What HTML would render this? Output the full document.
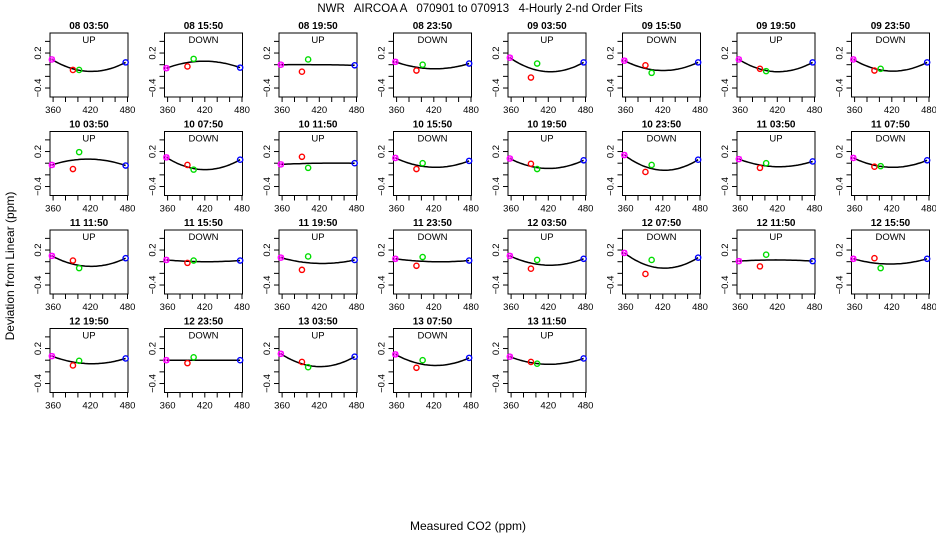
<!DOCTYPE html>
<html><head><meta charset="utf-8"><style>
body{margin:0;background:#fff}
svg{display:block;font-family:"Liberation Sans",sans-serif}
</style></head><body>
<svg id="c" width="936" height="540" viewBox="0 0 936 540">
<text x="480" y="12" text-anchor="middle" font-size="11.5" style="white-space:pre">NWR   AIRCOA A   070901 to 070913   4-Hourly 2-nd Order Fits</text>
<text x="468" y="530" text-anchor="middle" font-size="12">Measured CO2 (ppm)</text>
<text transform="translate(14,266) rotate(-90)" text-anchor="middle" font-size="12">Deviation from Linear (ppm)</text>
</svg>
<script>
const titles=["08 03:50","08 15:50","08 19:50","08 23:50","09 03:50","09 15:50","09 19:50","09 23:50",
"10 03:50","10 07:50","10 11:50","10 15:50","10 19:50","10 23:50","11 03:50","11 07:50",
"11 11:50","11 15:50","11 19:50","11 23:50","12 03:50","12 07:50","12 11:50","12 15:50",
"12 19:50","12 23:50","13 03:50","13 07:50","13 11:50"];
const directions=["UP","DOWN","UP","DOWN","UP","DOWN","UP","DOWN","UP","DOWN","UP","DOWN","UP","DOWN","UP","DOWN",
"UP","DOWN","UP","DOWN","UP","DOWN","UP","DOWN","UP","DOWN","UP","DOWN","UP"];
const pointX=[358,392,402,477];
const magentaVals=[0.09,-0.06,0,0.05,0.12,0.07,0.09,0.09, -0.03,0.10,-0.02,0.09,0.08,0.14,0.07,0.09, 0.10,0.03,0.07,0.05,0.10,0.15,0.01,0.05, 0.07,0,0.11,0.10,0.06];
const redVals=[-0.09,-0.03,-0.12,-0.10,-0.22,-0.01,-0.07,-0.10, -0.10,-0.03,0.11,-0.10,-0.01,-0.15,-0.08,-0.06, 0.02,-0.02,-0.14,-0.07,-0.12,-0.21,-0.08,0.06, -0.09,-0.05,-0.03,-0.13,-0.03];
const greenVals=[-0.09,0.10,0.09,0,0.02,-0.14,-0.11,-0.07, 0.19,-0.11,-0.08,0,-0.10,-0.03,0,-0.05, -0.11,0.02,0.09,0.08,0.03,0.03,0.12,-0.11, -0.01,0.05,-0.12,0,-0.06];
const blueVals=[0.04,-0.05,-0.01,0.02,0.04,0.04,0.04,0.04, -0.04,0.06,0,0.04,0.05,0.06,0.03,0.05, 0.06,0.02,0.03,0.02,0.05,0.07,0.01,0.05, 0.03,0,0.06,0.04,0.03];
const curveMidVals=[-0.115,0.06,0,-0.07,-0.12,-0.10,-0.12,-0.11, 0.07,-0.11,0,-0.07,-0.09,-0.12,-0.06,-0.07, -0.08,0,-0.03,0,-0.06,-0.11,0.03,-0.04, -0.06,0,-0.11,-0.09,-0.07];
const xTicks=[360,380,400,420,440,460,480];
const xTickLabels=[360,420,480];
const yTicks=[-0.4,-0.2,0,0.2,0.4];
const yTickLabels=[0.2,-0.4];

const NS="http://www.w3.org/2000/svg";
const svg=document.getElementById('c');
function mk(tag,attrs,parent){const e=document.createElementNS(NS,tag);for(const k in attrs)e.setAttribute(k,attrs[k]);parent.appendChild(e);return e;}
const W=78,H=64;
titles.forEach((t,i)=>{
  const col=i%8,row=Math.floor(i/8);
  const L=50+114.5*col,T=33+98.5*row;
  const xs=x=>L+(x-355)*W/125.8;
  const ys=v=>T+31.7-v*58.3;
  const g=mk('g',{},svg);
  
  
  const tt=mk('text',{x:L+W/2,y:T-4,'text-anchor':'middle','font-size':10,'font-weight':'bold'},g);tt.textContent=t;
  
  
  const dt=mk('text',{x:L+W/2,y:T+10,'text-anchor':'middle','font-size':9.5},g);dt.textContent=directions[i];
  
  
  const box=mk('rect',{x:L,y:T,width:W,height:H,fill:'none',stroke:'#000','stroke-width':1},g);
  
  
  xTicks.forEach(x=>{mk('line',{x1:xs(x),x2:xs(x),y1:T+H,y2:T+H+5,stroke:'#000'},g);});
  xTickLabels.forEach(x=>{const e=mk('text',{x:xs(x),y:T+H+16,'text-anchor':'middle','font-size':9.5},g);e.textContent=x;
    
    });
  yTicks.forEach(v=>{mk('line',{x1:L-5,x2:L,y1:ys(v),y2:ys(v),stroke:'#000'},g);});
  yTickLabels.forEach(v=>{const e=mk('text',{transform:`translate(${L-9},${ys(v)}) rotate(-90)`,'text-anchor':'middle','font-size':9.5},g);e.textContent=(v<0?'\u2212':'')+Math.abs(v).toFixed(1);
    
    });
  const x0=pointX[0],x1=420,x2=pointX[3],y0=magentaVals[i],y1=curveMidVals[i],y2=blueVals[i];
  const f=x=>y0*(x-x1)*(x-x2)/((x0-x1)*(x0-x2))+y1*(x-x0)*(x-x2)/((x1-x0)*(x1-x2))+y2*(x-x0)*(x-x1)/((x2-x0)*(x2-x1));
  let d='';for(let k=0;k<=40;k++){const x=x0+(x2-x0)*k/40;d+=(k?'L':'M')+xs(x).toFixed(1)+' '+ys(f(x)).toFixed(1);}
  const p=mk('path',{d:d,fill:'none',stroke:'#000','stroke-width':1.5},g);
  
  
  const pts=[[magentaVals[i],'#ff00ff','point-magenta'],[redVals[i],'#ff0000','point-red'],[greenVals[i],'#00dd00','point-green'],[blueVals[i],'#0000ff','point-blue']];
  pts.forEach((pp,j)=>{
    const cx=xs(pointX[j]),cy=ys(pp[0]);
    const c=mk('circle',{cx:cx,cy:cy,r:2.6,fill:'none',stroke:pp[1],'stroke-width':1.4},g);
    
    
    if(j===0){mk('path',{d:`M${cx-2.5} ${cy-2.5}L${cx+2.5} ${cy+2.5}M${cx-2.5} ${cy+2.5}L${cx+2.5} ${cy-2.5}`,stroke:pp[1],'stroke-width':0.9},g);}
  });
});
</script>
</body></html>
